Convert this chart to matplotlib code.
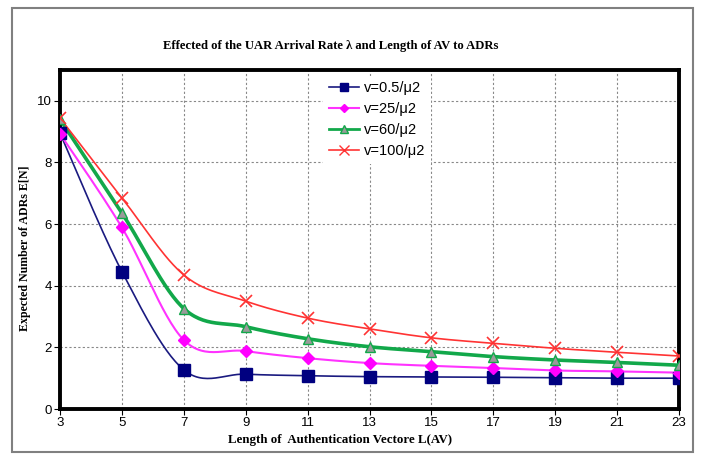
import numpy as np
import matplotlib
matplotlib.use("Agg")
import matplotlib.pyplot as plt
from matplotlib.patches import Rectangle

# Data
x_vals = [3, 5, 7, 9, 11, 13, 15, 17, 19, 21, 23]
labels = ["v=0.5/\u03bc2", "v=25/\u03bc2", "v=60/\u03bc2", "v=100/\u03bc2"]
v_05 = [8.95, 4.46, 1.27, 1.13, 1.08, 1.05, 1.04, 1.03, 1.01, 1.00, 1.00]
v_25 = [8.93, 5.89, 2.24, 1.88, 1.65, 1.49, 1.40, 1.33, 1.25, 1.22, 1.18]
v_60 = [9.40, 6.36, 3.26, 2.67, 2.28, 2.02, 1.86, 1.70, 1.59, 1.51, 1.42]
v_100 = [9.44, 6.85, 4.35, 3.50, 2.95, 2.60, 2.31, 2.13, 1.97, 1.84, 1.72]
series = [v_05, v_25, v_60, v_100]


def smooth(xs, ys, n=30):
    xs = np.asarray(xs, float)
    ys = np.asarray(ys, float)
    P = np.column_stack([xs, ys])
    out = []
    for i in range(len(P) - 1):
        p0 = P[i - 1] if i > 0 else P[i]
        p1 = P[i]
        p2 = P[i + 1]
        p3 = P[i + 2] if i + 2 < len(P) else P[i + 1]
        c1 = p1 + (p2 - p0) / 6.0
        c2 = p2 - (p3 - p1) / 6.0
        t = np.linspace(0, 1, n)[:, None]
        seg = ((1 - t) ** 3) * p1 + 3 * ((1 - t) ** 2) * t * c1 + 3 * (1 - t) * t ** 2 * c2 + t ** 3 * p2
        if i > 0:
            seg = seg[1:]
        out.append(seg)
    out = np.vstack(out)
    return out[:, 0], out[:, 1]


W, H = 704, 459
fig = plt.figure(figsize=(W / 100, H / 100), dpi=100)
fig.patch.set_facecolor("white")
fig.patches.append(Rectangle((12 / W, 1 - 452 / H), (693 - 12) / W, (452 - 8) / H,
                             transform=fig.transFigure, fill=False, edgecolor="#808080",
                             linewidth=1.5))

ax = fig.add_axes([60 / W, 1 - 409 / H, (679 - 60) / W, (409 - 70) / H])

styles = [
    dict(color="#1a1a80", lw=1.2, marker="s", ms=8, mfc="#000080", mec="#000080"),
    dict(color="#ff33ff", lw=1.5, marker="D", ms=6, mfc="#ff00ff", mec="#ff00ff"),
    dict(color="#12a84a", lw=2.6, marker="^", ms=7, mfc="#9a9a9a", mec="#12a84a", mew=1.0),
    dict(color="#ff3333", lw=1.2, marker="x", ms=9, mfc="#ff3333", mec="#ff3333", mew=1.2),
]

handles = []
for ys, lab, st in zip(series, labels, styles):
    sx, sy = smooth(x_vals, ys)
    ax.plot(sx, sy, color=st["color"], lw=st["lw"], zorder=3)
    ax.plot(x_vals, ys, linestyle="none", marker=st["marker"], ms=st["ms"],
            mfc=st["mfc"], mec=st["mec"], mew=st.get("mew", 1.0), zorder=4)
    h, = ax.plot([], [], color=st["color"], lw=st["lw"] if st["lw"] < 2 else 2.0,
                 marker=st["marker"], ms=st["ms"] * 0.75, mfc=st["mfc"], mec=st["mec"],
                 label=lab)
    handles.append(h)

ax.set_xlim(3, 23)
ax.set_ylim(0, 11)
ax.set_xticks(x_vals)
ax.set_yticks([0, 2, 4, 6, 8, 10])
ax.grid(True, color="#888888", linestyle=(0, (2, 2)), linewidth=0.8)
ax.set_axisbelow(True)
for s in ax.spines.values():
    s.set_linewidth(2.8)
    s.set_color("black")
ax.tick_params(axis="both", labelsize=9.5, length=4, width=0.8, direction="out", pad=2)
for lbl in ax.get_xticklabels() + ax.get_yticklabels():
    lbl.set_fontfamily("Liberation Sans")

serif = "Liberation Serif"
fig.text(331 / W, 1 - 46 / H, "Effected of the UAR Arrival Rate \u03bb and Length of AV to ADRs",
         ha="center", va="center", fontsize=9.1, fontweight="bold", family=serif)
fig.text(340 / W, 1 - 440 / H, "Length of  Authentication Vectore L(AV)",
         ha="center", va="center", fontsize=9.3, fontweight="bold", family=serif)
fig.text(25 / W, 1 - 248 / H, "Expected Number of ADRs E[N]", rotation=90,
         ha="center", va="center", fontsize=8.6, fontweight="bold", family=serif)

leg = ax.legend(handles=handles, loc="upper left", bbox_to_anchor=(0.413, 1.005),
                frameon=True, fancybox=False, edgecolor="none", framealpha=1.0,
                prop={"family": "Liberation Sans", "size": 10.5}, handlelength=2.1,
                handletextpad=0.3, labelspacing=0.48, borderpad=0.4)
leg.set_zorder(5)

fig.savefig("out.png", dpi=100)
